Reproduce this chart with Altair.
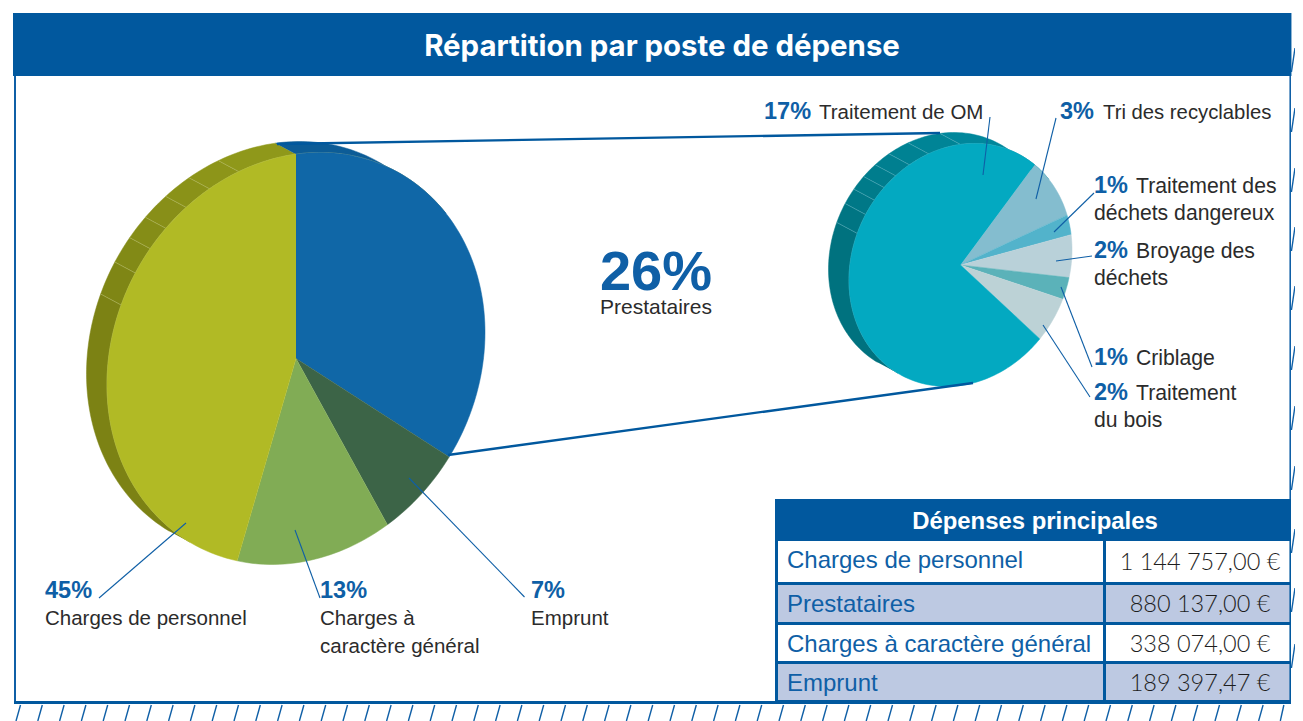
import math
import altair as alt
import pandas as pd

# ---- values ----
table_title = "Dépenses principales"
table_rows = ["Charges de personnel", "Prestataires", "Charges à caractère général", "Emprunt"]
table_labels = ["1 144 757,00 €", "880 137,00 €", "338 074,00 €", "189 397,47 €"]
# main pie, clockwise from the top: shares
main_order = ["Prestataires", "Emprunt", "Charges à caractère général", "Charges de personnel"]
main_shares = [34.1, 7.9, 12.5, 45.5]
main_colors = ["#1067A7", "#3C6447", "#81AC55", "#B1BA25"]
# sub pie, shares of the small pie (estimated), clockwise from tri
sub_names = ["Tri", "Dangereux", "Broyage", "Criblage", "Bois", "OM"]
sub_shares = [7.9, 2.7, 6.1, 3.3, 6.8, 73.2]
sub_colors = ["#84BDCF", "#52B3CB", "#B9D1D9", "#5BB2B9", "#BCD2D6", "#03A9C1"]
sub_start = 36.5

BLUE = "#01589E"
LEAD = "#0F5FA6"
DARK = "#2B2B2B"


def pt(p, phi):
    cx, cy, sx, sy, td = p
    sxy = -td * sy
    det = sx * sx * sy * sy - sxy * sxy
    u, v = math.sin(math.radians(phi)), -math.cos(math.radians(phi))
    q = (sy * sy * u * u - 2 * sxy * u * v + sx * sx * v * v) / det
    r = 1 / math.sqrt(q)
    return cx + r * u, cy + r * v


MAIN = (296, 358.5, 189, 206, 24)
SUB = (960.5, 265, 111.5, 121.5, 14)
SHIFT = (-20.5, -11)
polys_rim, polys_face, seps, edges = [], [], [], []


def add_poly(store, name, color, pts):
    for i, (x, y) in enumerate(pts):
        store.append({"poly": name, "i": i, "x": x, "y": y, "c": color})


def arc(p, a, b, dx=0, dy=0):
    n = max(2, int(abs(b - a) / 1.5) + 1)
    out = []
    for k in range(n + 1):
        x, y = pt(p, a + (b - a) * k / n)
        out.append((x + dx, y + dy))
    return out


def wedges(p, shares, colors, start, tag):
    tot = sum(shares)
    a = start
    for j, (s, c) in enumerate(zip(shares, colors)):
        b = a + 360 * s / tot
        add_poly(polys_face, f"{tag}{j}", c, [(p[0], p[1])] + arc(p, a, b))
        a = b


def rim(p, band_edges, colors, tag, sepcolor, n_sep):
    for j, c in enumerate(colors):
        a, b = band_edges[j], band_edges[j + 1]
        add_poly(polys_rim, f"{tag}{j}", c, arc(p, a, b, *SHIFT) + arc(p, b, a))
    for e in n_sep:
        x, y = pt(p, e)
        seps.append({"x": x, "y": y, "x2": x + SHIFT[0], "y2": y + SHIFT[1], "c": sepcolor})
    for i, (x, y) in enumerate(arc(p, -146, 45)):
        edges.append({"poly": tag, "i": i, "x": x, "y": y, "c": sepcolor})


wedges(MAIN, main_shares, main_colors, 0, "m")
wedges(SUB, sub_shares, sub_colors, sub_start, "s")
band = [-150, -73, -62, -53, -45, -36, -27, -17, 0, 46]
rim(MAIN, band, ["#7C8214", "#7F8615", "#828A16", "#858D17", "#888F18", "#8A9218", "#8D9519", "#8F981A", "#0C5C97"],
    "rm", "#BAC06E", band[1:8])
band2 = [-150, -73, -62, -53, -44.6, -36, -27, -16, 0, 46]
rim(SUB, band2, ["#00727F", "#007583", "#007887", "#007B8A", "#007D8D", "#007F90", "#008293", "#008496", "#00879B"],
    "rs", "#63B6C4", band2[1:9])

W, H = 1287, 713
X = alt.X("x:Q", scale=alt.Scale(domain=[8, 1280, 1294, 1303], range=[0, 1272, 1283, 1287],
                                 nice=False, zero=False), axis=None)
Y = alt.Y("y:Q", scale=alt.Scale(domain=[721, 8], nice=False, zero=False), axis=None)


def rects(rows):
    return alt.Chart(pd.DataFrame(rows, columns=["x", "x2", "y", "y2", "c"])).mark_rect().encode(
        X, x2="x2:Q", y=Y, y2="y2:Q", fill=alt.Fill("c:N", scale=None))


def rules(rows, width, opacity=1.0):
    df = pd.DataFrame(rows, columns=["x", "y", "x2", "y2", "c"])
    return alt.Chart(df).mark_rule(strokeWidth=width, opacity=opacity).encode(
        X, Y, x2="x2:Q", y2="y2:Q", stroke=alt.Stroke("c:N", scale=None))


def poly_layer(store):
    return alt.Chart(pd.DataFrame(store)).mark_line(strokeWidth=0.5, interpolate="linear").encode(
        X, Y, detail="poly:N", order="i:Q",
        fill=alt.Fill("c:N", scale=None), stroke=alt.Stroke("c:N", scale=None))


def texts(rows, size, color, weight="normal", font="Liberation Sans", align="left"):
    df = pd.DataFrame(rows, columns=["x", "y", "t"])
    return alt.Chart(df).mark_text(fontSize=size, color=color, fontWeight=weight, font=font,
                                   align=align, baseline="alphabetic").encode(X, Y, text="t:N")


# frame and header
frame = rects([
    (13, 1295, 13, 76, BLUE),
    (14, 16, 76, 703, "#0F5FA6"),
    (1292, 1294, 76, 703, "#0F5FA6"),
    (14, 1294, 701, 704, BLUE),
])

hatch_rows = [(16 + 21.8 * k, 721, 20.5 + 21.8 * k, 705, "#0F5FA6") for k in range(59)]
hatch_rows += [(1295, y, 1303, y - 24, "#0F5FA6") for y in [72, 132, 192, 251, 310, 370, 430, 490, 553, 612, 668]]
hatch = rules(hatch_rows, 1.4)

# table
tbl_rects = rects([
    (775, 1294, 499, 702, BLUE),
    (778, 1103, 541, 582, "white"), (1106, 1292, 541, 582, "white"),
    (778, 1103, 585, 622, "#BDC9E2"), (1106, 1292, 585, 622, "#BDC9E2"),
    (778, 1103, 625, 661, "white"), (1106, 1292, 625, 661, "white"),
    (778, 1103, 664, 700, "#BDC9E2"), (1106, 1292, 664, 700, "#BDC9E2"),
])
row_y = [568, 612, 652, 691]
amt_y = [570, 612, 652, 691]

connectors = rules([(277, 144, 940, 133, BLUE), (448, 455, 973, 383, BLUE)], 2.4)
leaders = rules([
    (99, 598, 186, 523, LEAD), (320, 598, 295, 530, LEAD), (524.5, 597, 409, 478, LEAD),
    (990, 117, 983, 175, LEAD), (1056, 118, 1036, 199, LEAD), (1094, 193, 1054, 232, LEAD),
    (1092, 256, 1056, 261, LEAD), (1092, 367, 1061, 287, LEAD), (1090, 397, 1043, 325, LEAD),
], 1.1)

edge_line = alt.Chart(pd.DataFrame(edges)).mark_line(strokeWidth=0.6, opacity=0.8).encode(
    X, Y, detail="poly:N", order="i:Q", stroke=alt.Stroke("c:N", scale=None))

bold_pct = texts([
    (45, 598, "45%"), (320, 598, "13%"), (531, 598, "7%"),
    (764, 119, "17%"), (1060, 119, "3%"), (1094, 193, "1%"),
    (1094, 258, "2%"), (1094, 365, "1%"), (1094, 400, "2%"),
], 23.5, LEAD, "bold")
body = texts([
    (45, 625, "Charges de personnel"), (320, 625, "Charges à"), (320, 653, "caractère général"),
    (531, 625, "Emprunt"), (819, 119, "Traitement de OM"),
], 20.5, DARK)
tri = texts([(1103, 119, "Tri des recyclables")], 20.3, DARK)
body_right = texts([
    (1136, 193, "Traitement des"), (1094, 220, "déchets dangereux"),
    (1136, 258, "Broyage des"), (1094, 285, "déchets"), (1136, 365, "Criblage"),
    (1136, 400, "Traitement"), (1094, 427, "du bois"),
], 21.2, DARK)

chart = alt.layer(
    frame,
    hatch,
    poly_layer(polys_rim),
    rules(seps, 0.6, 0.8),
    edge_line,
    poly_layer(polys_face),
    connectors,
    leaders,
    tbl_rects,
    texts([(662, 56, "Répartition par poste de dépense")], 29.4, "white", "bold", "Inter", "center"),
    bold_pct,
    body,
    tri,
    body_right,
    texts([(656, 290, "26%")], 56, LEAD, "bold", align="center"),
    texts([(656, 314, "Prestataires")], 21, DARK, align="center"),
    texts([(1035, 529, table_title)], 23.9, "white", "bold", align="center"),
    texts([(787, y, t) for y, t in zip(row_y, table_rows)], 24, LEAD),
    texts([(1200, y, t) for y, t in zip(amt_y, table_labels)], 23.5, "#1E1E1E", 300, "Lato", "center"),
).properties(width=W, height=H, padding=0, background="white",
             autosize=alt.AutoSizeParams(type="none")).configure_view(stroke=None)

chart.save("out.html", embed_options={"renderer": "svg", "actions": False})
